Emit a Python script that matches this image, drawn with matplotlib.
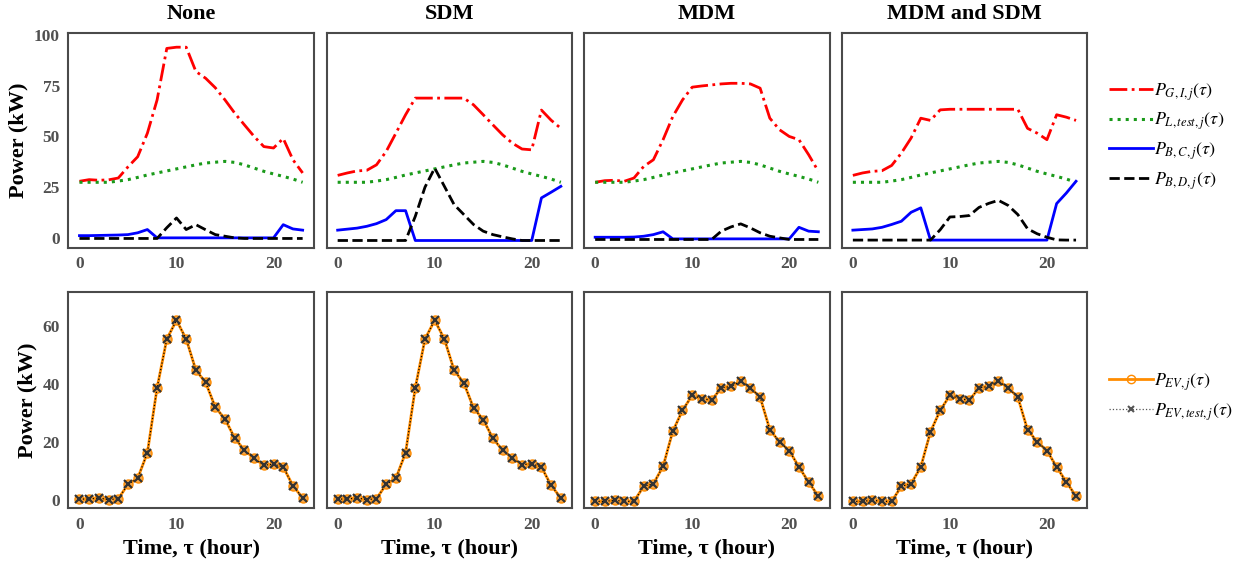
import matplotlib
matplotlib.use("Agg")
import matplotlib.pyplot as plt
from matplotlib.lines import Line2D
import numpy as np

hours = list(range(24))
scenarios = ["None", "SDM", "MDM", "MDM and SDM"]

# Test load (same in all scenarios)
p_load = [27.4, 27.4, 27.4, 27.4, 28.0, 28.7, 29.8, 31.0, 32.0, 33.0, 34.0, 35.0,
          36.0, 36.9, 37.3, 37.7, 37.2, 36.0, 34.4, 32.8, 31.5, 30.3, 29.0, 27.4]

# Grid import P_G,I
p_grid_none = [27.9, 28.7, 28.4, 28.6, 29.5, 35.0, 40.0, 51.6, 68.0, 93.4, 94.0, 94.0,
               82.0, 78.7, 74.0, 68.0, 61.5, 55.7, 50.0, 45.0, 44.3, 49.0, 38.5, 32.0]
p_grid_sdm = [30.8, 32.0, 33.0, 33.3, 36.0, 42.6, 51.6, 60.7, 68.9, 68.9, 68.9, 68.9,
              68.9, 68.9, 65.6, 60.7, 55.7, 50.8, 46.7, 43.8, 43.4, 63.0, 58.0, 54.0]
p_grid_mdm = [27.4, 28.2, 28.4, 27.9, 29.5, 35.2, 38.5, 48.4, 59.8, 68.0, 74.3, 74.9,
              75.4, 75.9, 76.2, 76.2, 75.9, 73.8, 59.0, 53.3, 50.0, 48.4, 41.0, 32.8]
p_grid_both = [30.8, 32.0, 32.8, 33.1, 35.7, 41.8, 49.2, 59.0, 57.9, 63.1, 63.4, 63.4,
               63.4, 63.4, 63.4, 63.4, 63.4, 63.4, 54.0, 51.6, 48.4, 60.7, 59.5, 57.9]

# Battery charging P_B,C
p_bc_none = [1.1, 1.1, 1.2, 1.3, 1.4, 1.6, 2.5, 4.1, 0.0, 0.0, 0.0, 0.0,
             0.0, 0.0, 0.0, 0.0, 0.0, 0.0, 0.0, 0.0, 0.0, 6.5, 4.4, 3.8]
p_bc_sdm = [3.8, 4.3, 4.8, 5.7, 7.0, 9.0, 13.4, 13.4, -1.3, -1.3, -1.3, -1.3,
            -1.3, -1.3, -1.3, -1.3, -1.3, -1.3, -1.3, -1.3, -1.3, 19.7, 22.5, 25.4]
p_bc_mdm = [0.3, 0.3, 0.3, 0.3, 0.4, 0.8, 1.6, 3.0, -0.5, -0.5, -0.5, -0.5,
            -0.5, -0.5, -0.5, -0.5, -0.5, -0.5, -0.5, -0.5, -0.5, 5.2, 3.3, 3.0]
p_bc_both = [3.8, 4.1, 4.4, 5.2, 6.6, 8.2, 12.6, 14.8, -1.1, -1.1, -1.1, -1.1,
             -1.1, -1.1, -1.1, -1.1, -1.1, -1.1, -1.1, -1.1, -1.1, 16.9, 22.1, 27.9]

# Battery discharging P_B,D
p_bd_none = [-0.3, -0.3, -0.3, -0.3, -0.3, -0.3, -0.3, -0.3, -0.3, 5.0, 9.8, 4.1,
             6.5, 4.0, 1.6, 0.8, 0.0, -0.3, -0.3, -0.3, -0.3, -0.3, -0.3, -0.3]
p_bd_sdm = [-1.3, -1.3, -1.3, -1.3, -1.3, -1.3, -1.3, -1.3, 10.6, 25.0, 34.4, 25.4,
            16.4, 11.5, 6.6, 3.3, 1.6, 0.5, -0.5, -1.3, -1.3, -1.3, -1.3, -1.3]
p_bd_mdm = [-0.8, -0.8, -0.8, -0.8, -0.8, -0.8, -0.8, -0.8, -0.8, -0.8, -0.8, -0.8,
            -0.8, 3.3, 5.4, 6.9, 4.9, 2.5, 0.8, 0.0, -0.8, -0.8, -0.8, -0.8]
p_bd_both = [-1.1, -1.1, -1.1, -1.1, -1.1, -1.1, -1.1, -1.1, -1.1, 4.0, 10.3, 10.5,
             11.0, 15.0, 17.0, 18.5, 16.0, 11.5, 4.5, 2.0, 0.3, -1.0, -1.1, -1.1]

# EV charging
p_ev_none = [0.2, 0.2, 0.6, 0.0, 0.3, 5.3, 7.4, 16.2, 38.7, 55.6, 62.1, 55.6,
             44.8, 40.6, 32.0, 27.9, 21.3, 17.1, 14.3, 11.9, 12.3, 11.3, 4.8, 0.6]
p_ev_sdm = [0.2, 0.2, 0.6, 0.0, 0.3, 5.3, 7.4, 16.2, 38.7, 55.6, 62.1, 55.6,
            44.8, 40.4, 31.8, 27.7, 21.2, 17.1, 14.4, 12.1, 12.4, 11.3, 4.9, 0.6]
p_ev_mdm = [-0.6, -0.6, -0.2, -0.6, -0.6, 4.6, 5.5, 11.5, 23.7, 30.9, 36.1, 35.0,
            34.4, 38.7, 39.2, 41.0, 38.7, 35.5, 24.2, 20.0, 17.0, 11.3, 6.1, 1.2]
p_ev_both = [-0.6, -0.6, -0.2, -0.6, -0.6, 4.6, 5.5, 11.3, 23.5, 30.9, 36.1, 35.0,
             34.4, 38.7, 39.2, 41.0, 38.7, 35.5, 24.2, 20.0, 17.0, 11.3, 6.1, 1.2]

grid = [p_grid_none, p_grid_sdm, p_grid_mdm, p_grid_both]
bc = [p_bc_none, p_bc_sdm, p_bc_mdm, p_bc_both]
bd = [p_bd_none, p_bd_sdm, p_bd_mdm, p_bd_both]
ev = [p_ev_none, p_ev_sdm, p_ev_mdm, p_ev_both]

top_yticks = [0, 25, 50, 75, 100]
bot_yticks = [0, 20, 40, 60]
xticks = [0, 10, 20]

plt.rcParams['font.family'] = ['Liberation Serif', 'DejaVu Serif']
plt.rcParams['mathtext.fontset'] = 'stix'

fig = plt.figure(figsize=(12.45, 5.61), dpi=100)
W, H = 1245, 561
lefts = [68.3, 326.5, 584.0, 841.7]
width = 245.5
top_rows = (33, 248)
bot_rows = (291.7, 508.3)

spine_col = '#4a4a4a'
tick_col = '#505050'

def style(ax):
    for s in ax.spines.values():
        s.set_color(spine_col)
        s.set_linewidth(1.5)
    ax.tick_params(length=0, pad=6, labelsize=12.5, labelcolor=tick_col)
    for lab in ax.get_xticklabels() + ax.get_yticklabels():
        lab.set_fontweight('bold')

top_axes, bot_axes = [], []
for i in range(4):
    axt = fig.add_axes([lefts[i] / W, 1 - top_rows[1] / H, width / W, (top_rows[1] - top_rows[0]) / H])
    axb = fig.add_axes([lefts[i] / W, 1 - bot_rows[1] / H, width / W, (bot_rows[1] - bot_rows[0]) / H])
    axt.plot(hours, grid[i], color='red', ls='-.', lw=2, label=r'$P_{G,I,j}(\tau)$')
    axt.plot(hours, p_load, color='#1a9a1a', ls=':', lw=2.2, label=r'$P_{L,test,j}(\tau)$')
    axt.plot(hours, bc[i], color='blue', ls='-', lw=2, label=r'$P_{B,C,j}(\tau)$')
    axt.plot(hours, bd[i], color='black', ls='--', lw=2, label=r'$P_{B,D,j}(\tau)$')
    axt.set_ylim(-5, 101)
    axt.set_xlim(-1.15, 24.15)
    axt.set_yticks(top_yticks)
    axt.set_xticks(xticks)
    axt.set_title(scenarios[i], fontsize=16, fontweight='bold', pad=10)

    axb.plot(hours, ev[i], color='#ff8c00', lw=2, marker='o', ms=6.5,
             mfc='#f7a84a', mec='#ff8c00', label=r'$P_{EV,j}(\tau)$')
    axb.plot(hours, ev[i], color='black', ls=':', lw=0.9, marker='x', ms=5.5,
             mec='#333333', mew=1.6, label=r'$P_{EV,test,j}(\tau)$')
    axb.set_ylim(-3, 72)
    axb.set_xlim(-1.15, 24.15)
    axb.set_yticks(bot_yticks)
    axb.set_xticks(xticks)
    axb.set_xlabel('Time, τ (hour)', fontsize=16, fontweight='bold')
    if i > 0:
        axt.set_yticklabels([])
        axb.set_yticklabels([])
    else:
        axt.set_ylabel('Power (kW)', fontsize=16, fontweight='bold')
        axb.set_ylabel('Power (kW)', fontsize=16, fontweight='bold')
    style(axt)
    style(axb)
    top_axes.append(axt)
    bot_axes.append(axb)

h1, l1 = top_axes[0].get_legend_handles_labels()
fig.legend(h1, l1, loc='center left', bbox_to_anchor=(0.878, 0.757), frameon=False,
           fontsize=13, handlelength=2.4, handletextpad=0.1, labelspacing=0.45)

ev_h = [Line2D([0], [0], color='#ff8c00', lw=2, marker='o', ms=6, mfc='none', mec='#ff8c00'),
        Line2D([0], [0], color='#555555', ls=':', lw=0.9, marker='x', ms=5, mec='#555555', mew=1.5)]
fig.legend(ev_h, [r'$P_{EV,j}(\tau)$', r'$P_{EV,test,j}(\tau)$'], loc='center left',
           bbox_to_anchor=(0.878, 0.292), frameon=False, fontsize=13, handlelength=2.4,
           handletextpad=0.1, labelspacing=0.45)

fig.savefig('out.png', dpi=100)
